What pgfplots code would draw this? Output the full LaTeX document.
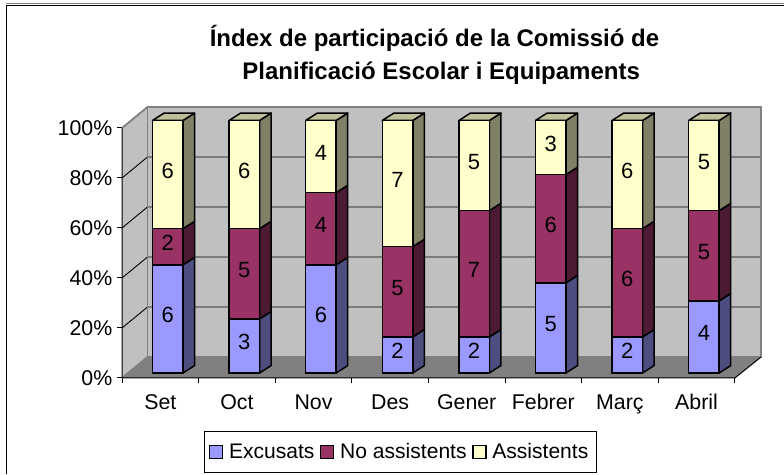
\documentclass[border=0pt]{standalone}
\usepackage{fontspec}
\setmainfont{Liberation Sans}
\usepackage{pgfplots}
\usepackage{pgfplotstable}
\pgfplotsset{compat=1.18}
\definecolor{blueF}{HTML}{9999FF}
\definecolor{blueS}{HTML}{4D4D80}
\definecolor{mauveF}{HTML}{993366}
\definecolor{mauveS}{HTML}{4D1A33}
\definecolor{yellF}{HTML}{FFFFCC}
\definecolor{yellS}{HTML}{808066}
\definecolor{yellT}{HTML}{BFBF99}
\definecolor{wall}{HTML}{C0C0C0}
\definecolor{floorc}{HTML}{808080}
\newlength\px \setlength\px{0.75pt}

% percent of 14 members, x = bar centre, meta = count
\pgfplotstableread{
x     exc   no    ass   nexc nno nass
0.5   42.86 14.29 42.85 6 2 6
1.5   21.43 35.71 42.86 3 5 6
2.5   42.86 28.57 28.57 6 4 4
3.5   14.29 35.71 50.00 2 5 7
4.5   14.29 50.00 35.71 2 7 5
5.5   35.71 42.86 21.43 5 6 3
6.5   14.29 42.86 42.85 2 6 6
7.5   28.57 35.71 35.72 4 5 5
}\parts

\pgfplotsset{
  common/.style={
    anchor=origin, scale only axis, clip=false,
    xmin=0, enlargelimits=false,
  },
  seg/.style={draw=black, line width=1.5\px, bar width=30.5\px},
}
% side face of one segment: centre, from, to (percent), colour
\newcommand{\side}[4]{%
  \pgfmathsetmacro\xa{#1+0.199}\pgfmathsetmacro\xb{\xa+0.151}%
  \pgfmathsetmacro\ya{#2+2.93}\pgfmathsetmacro\yb{#3+2.93}%
  \addplot[fill=#4, draw=black, line width=1.5\px, line join=round] coordinates
    {(\xa,#2) (\xb,\ya) (\xb,\yb) (\xa,#3)} -- cycle;}
\newcommand{\tops}[1]{%
  \pgfmathsetmacro\xa{#1-0.199}\pgfmathsetmacro\xb{#1+0.199}%
  \pgfmathsetmacro\xc{\xb+0.151}\pgfmathsetmacro\xd{\xa+0.151}%
  \addplot[fill=yellT, draw=black, line width=1.5\px, line join=round] coordinates
    {(\xa,100) (\xb,100) (\xc,102.93) (\xd,102.93)} -- cycle;}

\begin{document}
\begin{tikzpicture}[x=1\px,y=1\px]
\path[use as bounding box] (0,0) rectangle (784,474);
\draw[floorc, line width=1\px] (6,470) -- (784,470);
\draw[black, line width=1.5\px] (6.5,0) -- (6.5,468.5) -- (784,468.5);

% walls, floor, grid, ticks
\begin{axis}[common, at={(122\px,96\px)}, width=639\px, height=271\px,
  xmax=8.342, ymin=0, ymax=108.4,
  axis line style={draw=none},
  xtick={0,...,8}, xticklabels={},
  extra x ticks={0.5,1.5,2.5,3.5,4.5,5.5,6.5,7.5},
  extra x tick labels={Set,Oct,Nov,Des,Gener,Febrer,Març,Abril},
  extra x tick style={major tick length=0pt,
    xticklabel style={yshift=-11\px, text height=12pt, text depth=3.5pt}},
  ytick={0,20,40,60,80,100}, yticklabel={\pgfmathprintnumber\tick\%},
  xtick pos=bottom, ytick pos=left, tick align=outside,
  major tick length=5\px, tick style={black, line width=1\px},
  ticklabel style={font=\fontsize{16pt}{18pt}\selectfont},
  /pgf/number format/assume math mode=true,
]
\addplot[fill=wall, draw=none] coordinates {(0,0) (0.333,8.4) (0.333,108.4) (0,100)} -- cycle;
\addplot[fill=wall, draw=none] coordinates {(0.333,8.4) (8.342,8.4) (8.342,108.4) (0.333,108.4)} -- cycle;
\addplot[fill=floorc, draw=none] coordinates {(0,0) (8,0) (8.342,8.4) (0.333,8.4)} -- cycle;
% gridlines on both walls
\addplot[black, line width=0.9\px] coordinates {(0,20) (0.333,28.4) (8.342,28.4)};
\addplot[black, line width=0.9\px] coordinates {(0,40) (0.333,48.4) (8.342,48.4)};
\addplot[black, line width=0.9\px] coordinates {(0,60) (0.333,68.4) (8.342,68.4)};
\addplot[black, line width=0.9\px] coordinates {(0,80) (0.333,88.4) (8.342,88.4)};
% wall edges
\addplot[floorc, line width=1.8\px] coordinates {(0,100) (0.333,108.4) (8.342,108.4) (8.342,8.4) (0.333,8.4) (0,0)};
\addplot[floorc, line width=1.8\px] coordinates {(0.333,8.4) (0.333,108.4)};
% axes
\addplot[black, line width=1\px] coordinates {(0,100) (0,0) (8,0) (8.342,8.4)};
\end{axis}

% side and top faces of the bars
\begin{axis}[common, at={(129.4\px,101\px)}, hide axis, x=76.6\px, y=2.525\px, xmax=8.342, ymin=0, ymax=104]
\side{0.5}{0}{42.86}{blueS}\side{0.5}{42.86}{57.15}{mauveS}\side{0.5}{57.15}{100}{yellS}\tops{0.5}
\side{1.5}{0}{21.43}{blueS}\side{1.5}{21.43}{57.14}{mauveS}\side{1.5}{57.14}{100}{yellS}\tops{1.5}
\side{2.5}{0}{42.86}{blueS}\side{2.5}{42.86}{71.43}{mauveS}\side{2.5}{71.43}{100}{yellS}\tops{2.5}
\side{3.5}{0}{14.29}{blueS}\side{3.5}{14.29}{50}{mauveS}\side{3.5}{50}{100}{yellS}\tops{3.5}
\side{4.5}{0}{14.29}{blueS}\side{4.5}{14.29}{64.29}{mauveS}\side{4.5}{64.29}{100}{yellS}\tops{4.5}
\side{5.5}{0}{35.71}{blueS}\side{5.5}{35.71}{78.57}{mauveS}\side{5.5}{78.57}{100}{yellS}\tops{5.5}
\side{6.5}{0}{14.29}{blueS}\side{6.5}{14.29}{57.15}{mauveS}\side{6.5}{57.15}{100}{yellS}\tops{6.5}
\side{7.5}{0}{28.57}{blueS}\side{7.5}{28.57}{64.28}{mauveS}\side{7.5}{64.28}{100}{yellS}\tops{7.5}
\end{axis}

% front faces, counts and legend
\begin{axis}[common, at={(129.4\px,101\px)}, hide axis, x=76.6\px, y=2.525\px, xmax=8.342, ymin=0, ymax=104,
  ybar stacked, bar width=30.5\px,
  nodes near coords, point meta=explicit,
  nodes near coords style={font=\fontsize{16.5pt}{18pt}\selectfont, black, yshift=4\px},
  every node near coord/.append style={/pgf/number format/assume math mode=true},
  legend columns=3,
  legend style={at={(400\px-129.4\px,-79\px)}, anchor=center, draw=black, line width=0.9\px,
    font=\fontsize{15.8pt}{18pt}\selectfont, inner xsep=5\px, inner ysep=9\px,
    /tikz/every even column/.append style={column sep=3\px}},
  legend image code/.code={\draw[#1, line width=1.2\px] (0,-6.5\px) rectangle (13\px,6.5\px);\path (16\px,0);},
]
\addplot[fill=blueF, seg] table[y=exc, meta=nexc] {\parts};
\addplot[fill=mauveF, seg] table[y=no, meta=nno] {\parts};
\addplot[fill=yellF, seg] table[y=ass, meta=nass] {\parts};
\legend{Excusats,No assistents,Assistents}
\end{axis}

\node[font=\bfseries\fontsize{18pt}{25pt}\selectfont, align=center] at (434.5,419)
  {Índex de participació de la Comissió de\\ \ \ Planificació Escolar i Equipaments};
\end{tikzpicture}
\end{document}
